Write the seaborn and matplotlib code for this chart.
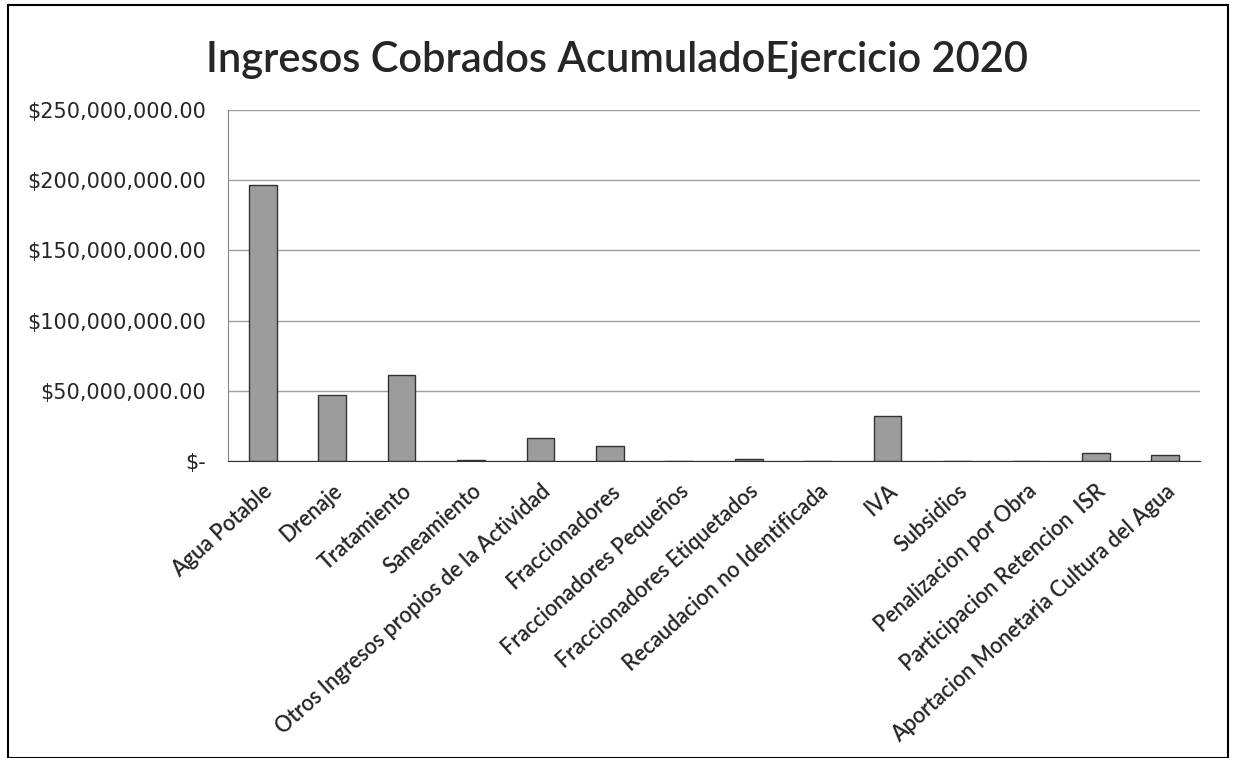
import matplotlib
matplotlib.use("Agg")
import matplotlib.pyplot as plt
import seaborn as sns
import pandas as pd
from matplotlib.ticker import FuncFormatter
from matplotlib.patches import Rectangle

categories = ["Agua Potable", "Drenaje", "Tratamiento", "Saneamiento",
              "Otros Ingresos propios de la Actividad", "Fraccionadores",
              "Fraccionadores Pequeños", "Fraccionadores Etiquetados",
              "Recaudacion no Identificada", "IVA", "Subsidios",
              "Penalizacion por Obra", "Participacion Retencion  ISR",
              "Aportacion Monetaria Cultura del Agua"]
values = [196500000, 47000000, 61000000, 1000000, 16500000, 10500000,
          300000, 1500000, 200000, 32000000, 100000, 100000, 6000000, 4000000]
yticks = [0, 50000000, 100000000, 150000000, 200000000, 250000000]

df = pd.DataFrame({"cat": categories, "val": values})

sns.set_style("white")
fig = plt.figure(figsize=(12.33, 7.58), dpi=100)
ax = fig.add_axes([228/1233, 1-461/758, (1200-228)/1233, (461-110)/758])

sns.barplot(data=df, x="cat", y="val", ax=ax, color="#9c9c9c", width=0.4,
            edgecolor="#333333", linewidth=1.0, saturation=1)

ax.set_ylim(0, 250000000)
ax.set_yticks(yticks)
ax.yaxis.set_major_formatter(FuncFormatter(lambda v, p: "$-" if v == 0 else f"${v:,.2f}"))
ax.grid(axis="y", color="#a0a0a0", linewidth=1)
ax.set_axisbelow(True)
for s in ["top", "right"]:
    ax.spines[s].set_visible(False)
ax.spines["left"].set_color("#888888")
ax.spines["bottom"].set_color("#333333")
ax.set_xlabel("")
ax.set_ylabel("")
ax.tick_params(axis="y", labelsize=15, length=0, pad=16)
for lab in ax.get_yticklabels():
    lab.set_fontfamily("DejaVu Sans")
ax.set_xticks(range(len(categories)))
ax.set_xticklabels(categories, rotation=42, ha="right", rotation_mode="anchor",
                   fontsize=15.5, family="Lato", fontweight="semibold")
ax.tick_params(axis="x", length=4, pad=10)

fig.text(0.5, 1-60/758, "Ingresos Cobrados AcumuladoEjercicio 2020", ha="center",
         va="center", fontsize=30, family="Lato", fontweight="semibold")
fig.patches.append(Rectangle((8/1233, 0), (1228-8)/1233, 1-5/758,
                             transform=fig.transFigure, fill=False,
                             edgecolor="black", linewidth=1.5))
fig.savefig("out.png", dpi=100)
